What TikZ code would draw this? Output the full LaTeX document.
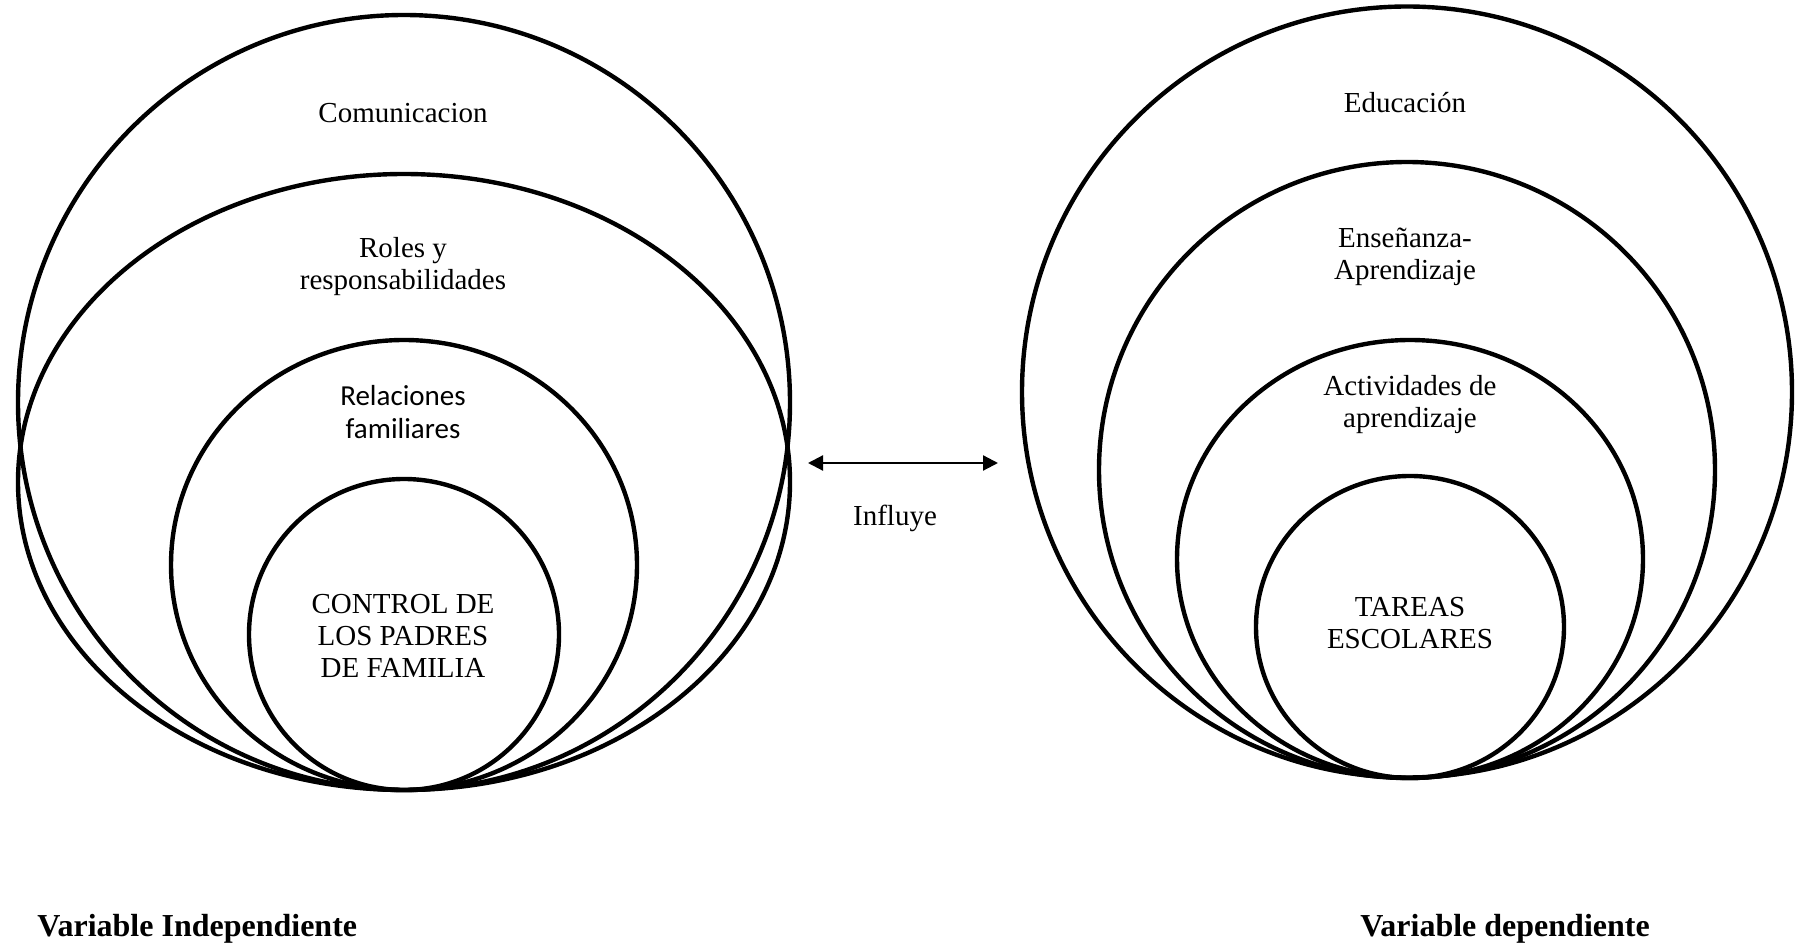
\documentclass[tikz,border=0pt]{standalone}
\usepackage{fontspec}
\setmainfont{Liberation Serif}
\newfontfamily\calibrifont{Carlito}
\usetikzlibrary{arrows.meta}
\begin{document}
\begin{tikzpicture}[x=0.5pt,y=-0.5pt,
  ring/.style={line width=2.2pt,draw=black},
  lbl/.style={align=center,font=\fontsize{14.5}{16}\selectfont,inner sep=0pt},
  sanslbl/.style={align=center,font=\calibrifont\fontsize{14.5}{16.5}\selectfont,inner sep=0pt},
  varlbl/.style={font=\bfseries\fontsize{16}{18}\selectfont,inner sep=0pt},
  link/.style={line width=1.1pt,{Triangle[length=7.5pt,width=7.5pt]}-{Triangle[length=7.5pt,width=7.5pt]}}]
\useasboundingbox (0,0) rectangle (1795,946);
% left group
\draw[ring] (404,402.5) ellipse [x radius=386, y radius=387.5];
\draw[ring] (404,482) ellipse [x radius=386, y radius=308];
\draw[ring] (404,565) ellipse [x radius=233, y radius=225];
\draw[ring] (404,634.5) ellipse [x radius=155, y radius=155.5];
\node[lbl] (comu) at (403,113) {Comunicacion};
\node[lbl] (roles) at (403,267) {Roles y\\responsabilidades};
\node[sanslbl] (rel) at (403,412) {Relaciones\\familiares};
\node[lbl] (ctrl) at (403,636) {CONTROL DE\\LOS PADRES\\DE FAMILIA};
% right group
\draw[ring] (1407,392) ellipse [x radius=385, y radius=385.5];
\draw[ring] (1407,470) ellipse [x radius=308, y radius=308];
\draw[ring] (1410,559) ellipse [x radius=233, y radius=219];
\draw[ring] (1410,627) ellipse [x radius=154, y radius=151];
\node[lbl] (edu) at (1405,103) {Educación};
\node[lbl] (ens) at (1405,257) {Enseñanza-\\Aprendizaje};
\node[lbl] (act) at (1410,405) {Actividades de\\aprendizaje};
\node[lbl] (tar) at (1410,623) {TAREAS\\ESCOLARES};
% arrow
\coordinate (aL) at (808,463);
\coordinate (aR) at (998,463);
\draw[link] (aL) -- (aR);
\node[lbl] (infl) at (895,518) {Influye};
% variables
\node[varlbl,anchor=west] (vind) at (37,929) {Variable Independiente};
\node[varlbl] (vdep) at (1505,929) {Variable dependiente};
\end{tikzpicture}
\end{document}
